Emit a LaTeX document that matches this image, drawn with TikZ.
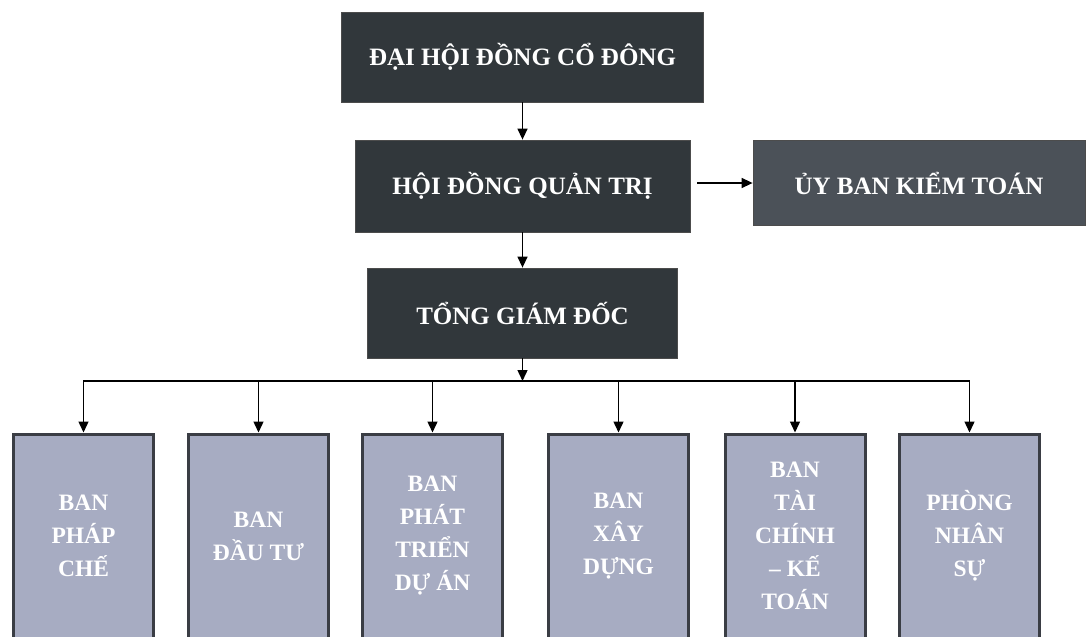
\documentclass[tikz,border=0pt]{standalone}
\usepackage{fontspec}
\setmainfont{Liberation Serif}
\usetikzlibrary{arrows.meta,positioning}

\definecolor{boxdark}{HTML}{31373B}
\definecolor{boxaudit}{HTML}{4B5158}
\definecolor{boxdept}{HTML}{A7ACC2}
\definecolor{deptedge}{HTML}{3A3D44}

\tikzset{
  topbox/.style={draw=black!70, line width=0.8pt, fill=boxdark, text=white,
    font=\bfseries\fontsize{25}{29}\selectfont, inner sep=0pt},
  deptbox/.style={draw=deptedge, line width=3pt, fill=boxdept, text=white,
    font=\bfseries\fontsize{23.5}{33}\selectfont, align=center,
    minimum width=140pt, minimum height=204pt, inner sep=0pt},
  link/.style={line width=1.4pt, -{Triangle[length=11pt,width=10pt]}}
}

\begin{document}
\begin{tikzpicture}[x=1pt, y=-1pt]
  \useasboundingbox (0,0) rectangle (1087,637);
  % upper levels
  \node[topbox, minimum width=362pt, minimum height=90pt] (DHDCD) at (522.5,57) {ĐẠI HỘI ĐỒNG CỔ ĐÔNG};
  \node[topbox, minimum width=335pt, minimum height=92pt] (HDQT) at (522.5,186) {HỘI ĐỒNG QUẢN TRỊ};
  \node[topbox, fill=boxaudit, minimum width=332pt, minimum height=85pt] (UBKT) at (919,183) {ỦY BAN KIỂM TOÁN};
  \node[topbox, minimum width=310pt, minimum height=90pt] (TGD) at (522.5,313) {TỔNG GIÁM ĐỐC};
  \coordinate (Bus) at (522.5,381);
  % departments
  \node[deptbox] (PhapChe) at (83.5,536) {BAN\\PHÁP\\CHẾ};
  \node[deptbox] (DauTu) at (258.5,536) {BAN\\ĐẦU TƯ};
  \node[deptbox] (PhatTrien) at (432.5,536) {BAN\\PHÁT\\TRIỂN\\DỰ ÁN};
  \node[deptbox] (XayDung) at (618.5,536) {BAN\\XÂY\\DỰNG};
  \node[deptbox] (TaiChinh) at (795,536) {BAN\\TÀI\\CHÍNH\\– KẾ\\TOÁN};
  \node[deptbox] (NhanSu) at (969.5,536) {PHÒNG\\NHÂN\\SỰ};
  % connectors
  \draw[link] (DHDCD) -- (HDQT);
  \draw[link, shorten <=7pt] (HDQT.east |- UBKT) -- (UBKT.west);
  \draw[link] (HDQT) -- (TGD);
  \draw[link] (TGD) -- (Bus);
  \foreach \dept in {PhapChe,DauTu,PhatTrien,XayDung,TaiChinh,NhanSu}
    \draw[link] (Bus) -| (\dept.north);
\end{tikzpicture}
\end{document}
